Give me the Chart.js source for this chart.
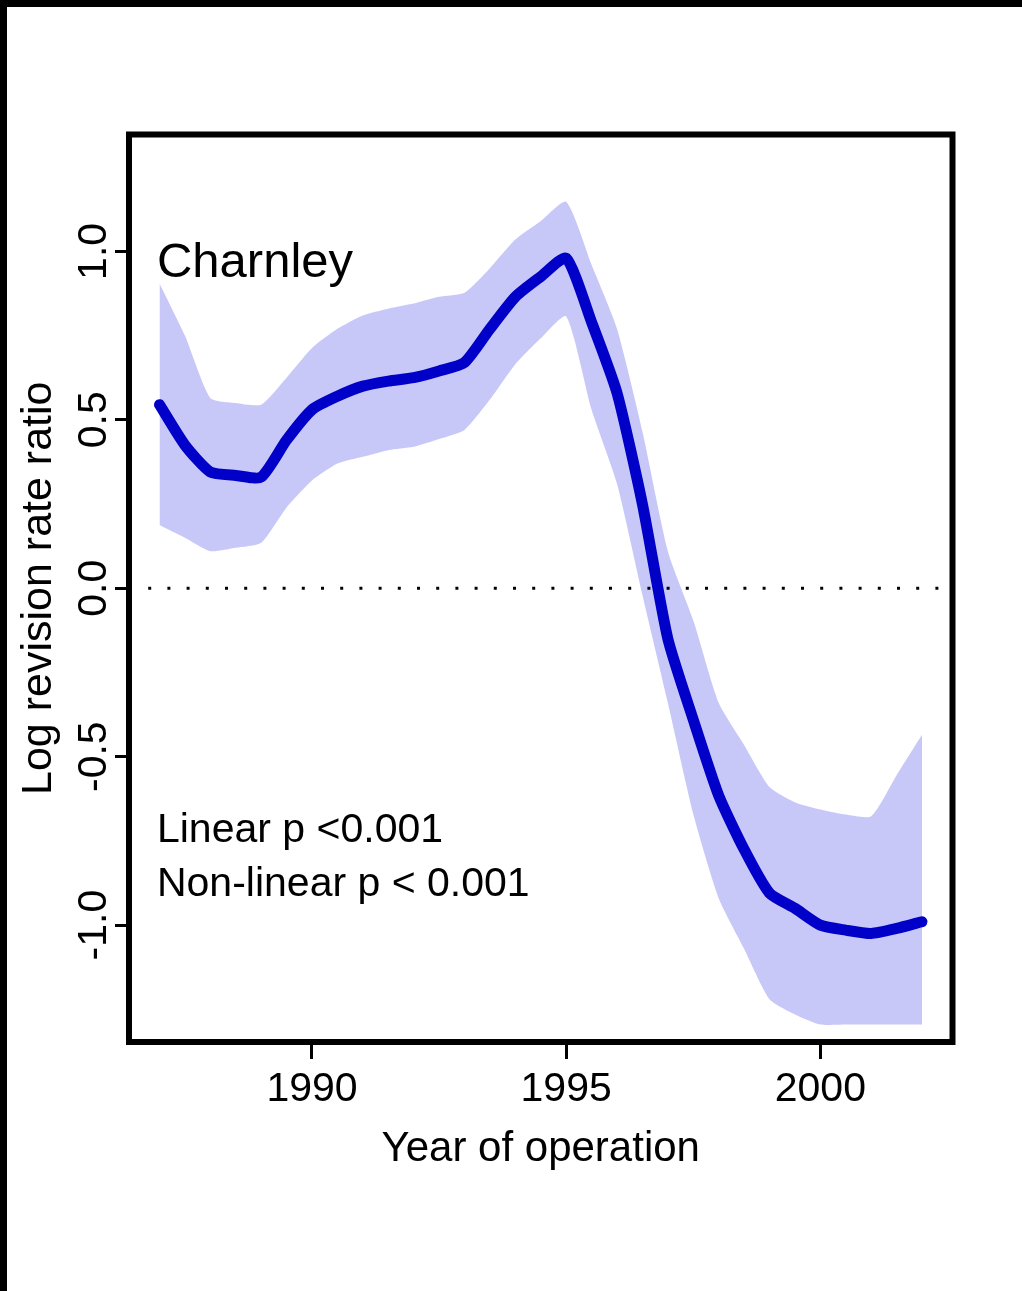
<!DOCTYPE html>
<html>
<head>
<meta charset="utf-8">
<title>Charnley</title>
<script src="https://cdn.jsdelivr.net/npm/chart.js@4.4.1/dist/chart.umd.min.js"></script>
<style>
  html, body { margin: 0; padding: 0; background: #fff; }
  #wrap { position: relative; width: 1022px; height: 1291px; background: #fff; }
  /* black edges along top and left of the figure */
  #wrap:before { content: ''; position: absolute; left: 0; top: 0; width: 1022px; height: 7px; background: #000; z-index: 2; }
  #wrap:after { content: ''; position: absolute; left: 0; top: 0; width: 7px; height: 1291px; background: #000; z-index: 2; }
  #c { position: absolute; left: 0; top: 0; }
</style>
</head>
<body>
<div id="wrap"><canvas id="c"></canvas></div>
<script>
// fitted log revision rate ratio by year, with its confidence band
const years = [1987, 1987.5, 1988, 1988.5, 1989, 1989.5, 1990, 1990.5, 1991, 1991.5,
               1992, 1992.5, 1993, 1993.5, 1994, 1994.5, 1995, 1995.5, 1996, 1996.5,
               1997, 1997.5, 1998, 1998.5, 1999, 1999.5, 2000, 2000.5, 2001, 2001.5, 2002];
const fit = [0.545, 0.425, 0.345, 0.335, 0.33, 0.44, 0.53, 0.57, 0.60, 0.615,
             0.625, 0.645, 0.67, 0.77, 0.865, 0.925, 0.98, 0.79, 0.58, 0.25,
             -0.15, -0.39, -0.615, -0.775, -0.905, -0.95, -1.0, -1.015, -1.025, -1.01, -0.99];
const upper = [0.905, 0.75, 0.565, 0.55, 0.545, 0.625, 0.713, 0.77, 0.81, 0.83,
               0.845, 0.865, 0.877, 0.95, 1.035, 1.09, 1.147, 0.96, 0.77, 0.465,
               0.11, -0.095, -0.34, -0.465, -0.59, -0.635, -0.657, -0.672, -0.677, -0.555, -0.435];
const lower = [0.188, 0.15, 0.11, 0.12, 0.135, 0.24, 0.32, 0.37, 0.39, 0.41,
               0.42, 0.443, 0.47, 0.56, 0.665, 0.742, 0.807, 0.53, 0.31, -0.02,
               -0.34, -0.67, -0.92, -1.07, -1.22, -1.265, -1.295, -1.295, -1.295, -1.295, -1.295];

const xTicks = [1990, 1995, 2000];
const yTicks = [-1.0, -0.5, 0.0, 0.5, 1.0];
const yTickLabels = ['-1.0', '-0.5', '0.0', '0.5', '1.0'];
const zeroX = [1986.4, 2002.6];
const zeroY = [0, 0];

const panelName = 'Charnley';
const testLines = ['Linear p <0.001', 'Non-linear p < 0.001'];

const FONT = "'Liberation Sans', Arial, sans-serif";
const pts = (xs, ys) => xs.map((x, i) => ({ x: x, y: ys[i] }));

// frame, rotated y labels and the text inside the panel
const panelText = {
  id: 'panelText',
  afterDraw(chart) {
    const { ctx, chartArea: a, scales: { x, y } } = chart;
    ctx.save();
    ctx.strokeStyle = '#000';
    ctx.lineWidth = 6;
    ctx.strokeRect(a.left, a.top, a.right - a.left, a.bottom - a.top);

    ctx.fillStyle = '#000';
    ctx.font = '41px ' + FONT;
    ctx.textAlign = 'center';
    ctx.textBaseline = 'middle';
    yTicks.forEach((v, i) => {
      ctx.save();
      ctx.translate(a.left - 34, y.getPixelForValue(v));
      ctx.rotate(-Math.PI / 2);
      ctx.fillText(yTickLabels[i], 0, 0);
      ctx.restore();
    });

    ctx.textAlign = 'left';
    ctx.textBaseline = 'alphabetic';
    ctx.font = '49px ' + FONT;
    ctx.fillText(panelName, x.getPixelForValue(1986.95), y.getPixelForValue(0.924));
    ctx.font = '41px ' + FONT;
    ctx.fillText(testLines[0], x.getPixelForValue(1986.95), y.getPixelForValue(-0.752));
    ctx.fillText(testLines[1], x.getPixelForValue(1986.95), y.getPixelForValue(-0.915));
    ctx.restore();
  }
};

new Chart(document.getElementById('c'), {
  type: 'line',
  data: {
    datasets: [
      { label: 'upper', data: pts(years, upper), borderWidth: 0, pointRadius: 0, tension: 0.2,
        backgroundColor: '#c8c8f8', fill: '+1', order: 3 },
      { label: 'lower', data: pts(years, lower), borderWidth: 0, pointRadius: 0, tension: 0.2,
        fill: false, order: 3 },
      { label: 'fit', data: pts(years, fit), borderColor: '#0000c8', borderWidth: 11, pointRadius: 0,
        tension: 0.2, borderCapStyle: 'round', borderJoinStyle: 'round', fill: false, order: 2 },
      { label: 'zero', data: pts(zeroX, zeroY), borderColor: '#000', borderWidth: 3,
        borderDash: [3, 16.2], pointRadius: 0, fill: false, order: 1 }
    ]
  },
  options: {
    responsive: true,
    maintainAspectRatio: false,
    animation: false,
    devicePixelRatio: 1,
    layout: { padding: { top: 134.5, right: 69.5, left: 0, bottom: 0 } },
    plugins: { legend: { display: false }, tooltip: { enabled: false } },
    scales: {
      x: {
        type: 'linear', min: 1986.4, max: 2002.6,
        afterBuildTicks: s => { s.ticks = xTicks.map(v => ({ value: v })); },
        afterFit: s => { s.height = 249; },
        grid: { drawOnChartArea: false, drawTicks: true, tickLength: 17, tickWidth: 3, tickColor: '#000' },
        border: { display: false },
        ticks: { font: { family: FONT, size: 41 }, color: '#000', padding: 6, maxRotation: 0, callback: v => String(v) },
        title: { display: true, text: 'Year of operation', color: '#000',
                 font: { family: FONT, size: 42 }, padding: { top: 0, bottom: 116 } }
      },
      y: {
        type: 'linear', min: -1.347, max: 1.347,
        afterBuildTicks: s => { s.ticks = yTicks.map(v => ({ value: v })); },
        afterFit: s => { s.width = 129; },
        grid: { drawOnChartArea: false, drawTicks: true, tickLength: 14, tickWidth: 3, tickColor: '#000' },
        border: { display: false },
        ticks: { display: false },
        title: { display: true, text: 'Log revision rate ratio', color: '#000',
                 font: { family: FONT, size: 43 }, padding: { top: 13, bottom: 0 } }
      }
    }
  },
  plugins: [panelText]
});
</script>
</body>
</html>
